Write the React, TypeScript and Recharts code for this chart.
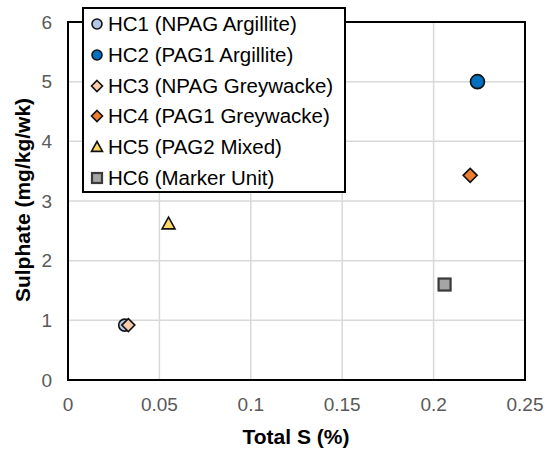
import {
  CartesianGrid,
  Label,
  Legend,
  ReferenceArea,
  Scatter,
  ScatterChart,
  XAxis,
  YAxis
} from "recharts";

type MarkerKind = "circle" | "diamond" | "triangle" | "square";

const seriesNames = [
  "HC1 (NPAG Argillite)",
  "HC2 (PAG1 Argillite)",
  "HC3 (NPAG Greywacke)",
  "HC4 (PAG1 Greywacke)",
  "HC5 (PAG2 Mixed)",
  "HC6 (Marker Unit)"
];
const totalS = [0.031, 0.224, 0.033, 0.22, 0.055, 0.206];
const sulphate = [0.92, 5.0, 0.92, 3.43, 2.62, 1.6];
const markerKinds: MarkerKind[] = ["circle", "circle", "diamond", "diamond", "triangle", "square"];
const markerFills = ["#b4c7e7", "#0070c0", "#f8cbad", "#ed7d31", "#ffd966", "#a5a5a5"];

const xTicks = [0, 0.05, 0.1, 0.15, 0.2, 0.25];
const yTicks = [0, 1, 2, 3, 4, 5, 6];

const FONT = '"Liberation Sans", Arial, sans-serif';

function Marker({ cx, cy, kind, fill, r }: { cx: number; cy: number; kind: MarkerKind; fill: string; r: number }) {
  const stroke = kind === "square" ? "#3a3a3a" : "#111";
  const sw = kind === "square" ? 2.2 : 1.6;
  if (kind === "circle") return <circle cx={cx} cy={cy} r={r} fill={fill} stroke={stroke} strokeWidth={sw} />;
  if (kind === "diamond")
    return (
      <polygon
        points={`${cx},${cy - r} ${cx + r},${cy} ${cx},${cy + r} ${cx - r},${cy}`}
        fill={fill}
        stroke={stroke}
        strokeWidth={sw}
      />
    );
  if (kind === "triangle")
    return (
      <polygon
        points={`${cx},${cy - r} ${cx + r},${cy + r * 0.8} ${cx - r},${cy + r * 0.8}`}
        fill={fill}
        stroke={stroke}
        strokeWidth={sw}
      />
    );
  return <rect x={cx - r} y={cy - r} width={r * 2} height={r * 2} fill={fill} stroke={stroke} strokeWidth={sw} />;
}

const plotSizes = [6, 7, 6.5, 7, 6.5, 6];
const legendSizes = [5, 5, 5.5, 5.5, 5.5, 5];

function LegendBox() {
  return (
    <div
      style={{
        width: 260,
        height: 182,
        border: "2px solid #000",
        background: "#fff",
        fontFamily: FONT,
        fontSize: 20.5,
        color: "#000",
        position: "relative"
      }}
    >
      {seriesNames.map((name, i) => (
        <div
          key={name}
          style={{ position: "absolute", left: 0, top: 4 + i * 30.8, height: 22, display: "flex", alignItems: "center", whiteSpace: "nowrap" }}
        >
          <svg width={24} height={22}>
            <Marker cx={13} cy={11} kind={markerKinds[i]} fill={markerFills[i]} r={legendSizes[i]} />
          </svg>
          <span>{name}</span>
        </div>
      ))}
    </div>
  );
}

export default function App() {
  return (
    <div>
      <style>{`body{margin:0}`}</style>
      <ScatterChart width={546} height={450} margin={{ top: 22, right: 21, bottom: 0, left: 0 }}>
        <CartesianGrid stroke="#d9d9d9" strokeWidth={1.5} />
        <XAxis
          type="number"
          dataKey="x"
          domain={[0, 0.25]}
          ticks={xTicks}
          height={70}
          axisLine={false}
          tickLine={false}
          tickSize={0}
          tickMargin={18}
          tick={{ fill: "#595959", fontSize: 19, fontFamily: FONT }}
        >
          <Label
            content={() => (
              <text x={296} y={444} textAnchor="middle" fontFamily={FONT} fontSize={21} fontWeight="bold" fill="#000">
                Total S (%)
              </text>
            )}
          />
        </XAxis>
        <YAxis
          type="number"
          dataKey="y"
          domain={[0, 6]}
          ticks={yTicks}
          width={68}
          axisLine={false}
          tickLine={false}
          tickSize={0}
          tickMargin={16}
          tick={{ fill: "#595959", fontSize: 19, fontFamily: FONT }}
        >
          <Label
            content={() => (
              <text
                x={0}
                y={0}
                transform="translate(30,200) rotate(-90)"
                textAnchor="middle"
                fontFamily={FONT}
                fontSize={21}
                fontWeight="bold"
                fill="#000"
              >
                Sulphate (mg/kg/wk)
              </text>
            )}
          />
        </YAxis>
        <ReferenceArea x1={0} x2={0.25} y1={0} y2={6} fill="none" fillOpacity={0} stroke="#000" strokeWidth={2} />
        <Legend
          layout="vertical"
          align="center"
          verticalAlign="middle"
          wrapperStyle={{ left: 82, top: 7, width: 264, height: 186 }}
          content={() => <LegendBox />}
        />
        {seriesNames.map((name, i) => (
          <Scatter
            key={name}
            name={name}
            data={[{ x: totalS[i], y: sulphate[i] }]}
            isAnimationActive={false}
            shape={(p: any) => <Marker cx={p.cx} cy={p.cy} kind={markerKinds[i]} fill={markerFills[i]} r={plotSizes[i]} />}
          />
        ))}
      </ScatterChart>
    </div>
  );
}
